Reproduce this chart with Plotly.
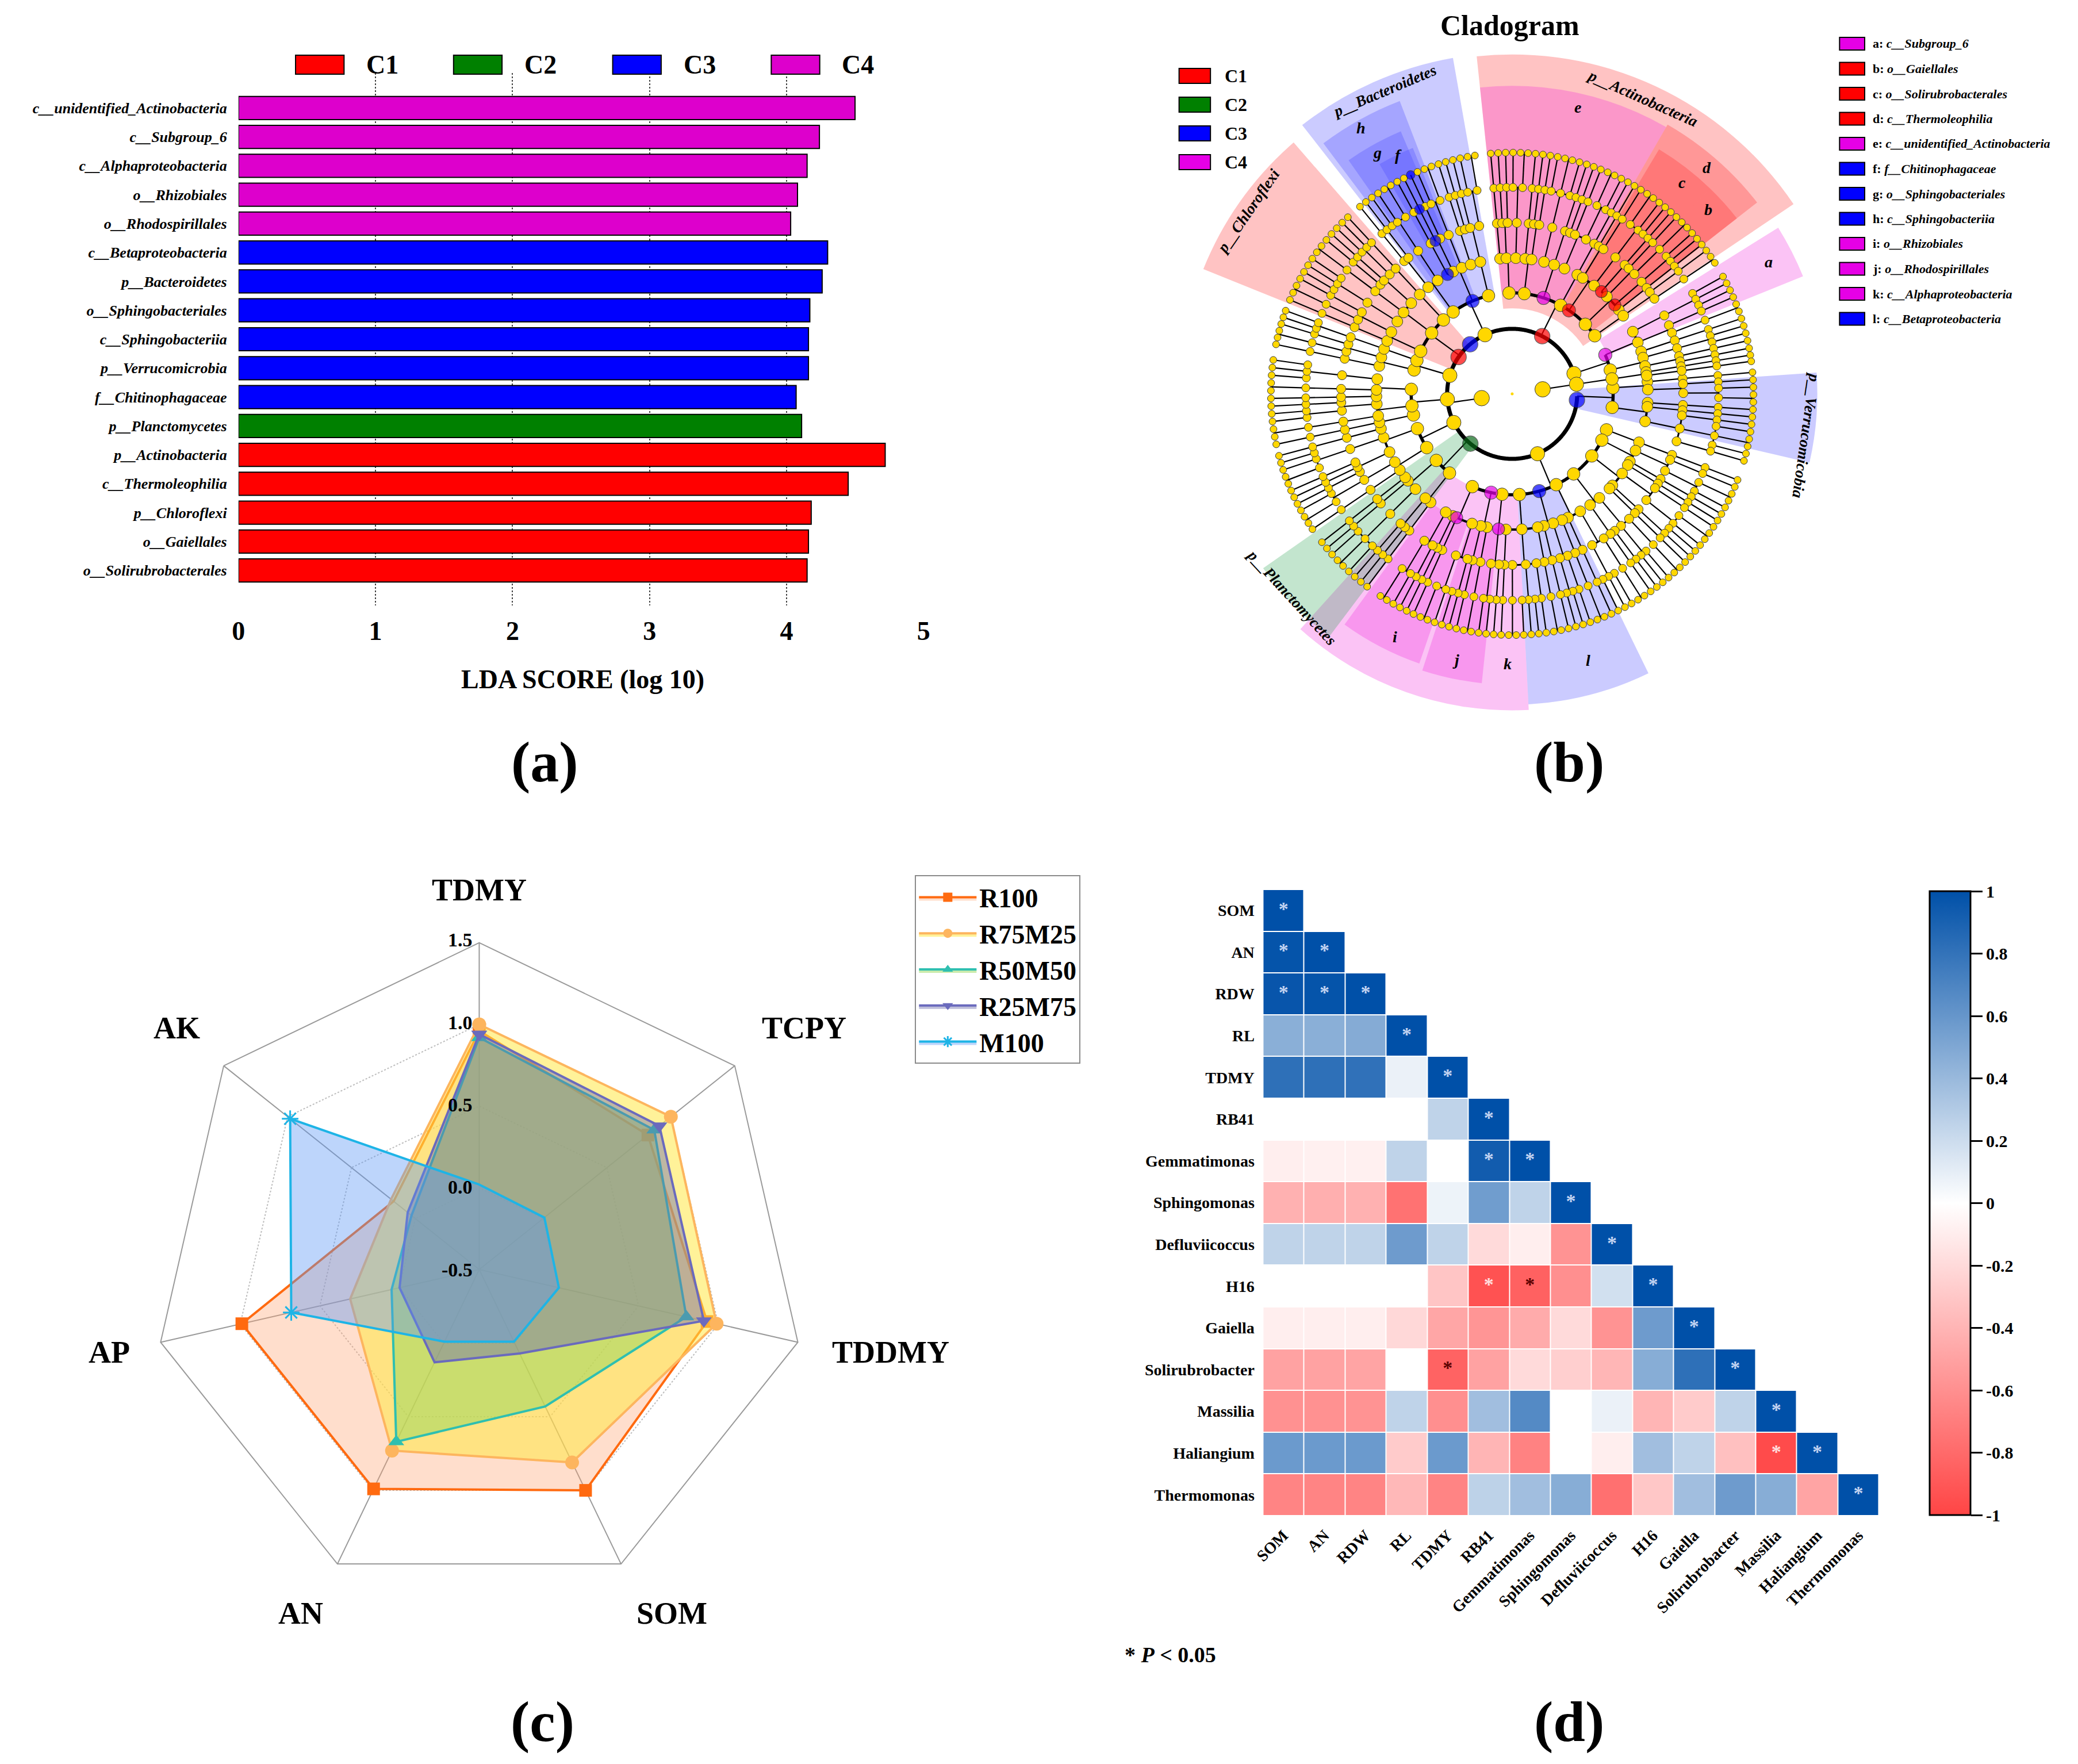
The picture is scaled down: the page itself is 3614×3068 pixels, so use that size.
import numpy as np
import plotly.graph_objects as go

W, H = 3614, 3068
SERIF = "Liberation Serif, Times New Roman, serif"
SHIFT = 8  # the page body margin moves the figure this many px right/down

# ---------------- (a) LDA scores ----------------
lda_taxa = ["c__unidentified_Actinobacteria", "c__Subgroup_6", "c__Alphaproteobacteria",
            "o__Rhizobiales", "o__Rhodospirillales", "c__Betaproteobacteria",
            "p__Bacteroidetes", "o__Sphingobacteriales", "c__Sphingobacteriia",
            "p__Verrucomicrobia", "f__Chitinophagaceae", "p__Planctomycetes",
            "p__Actinobacteria", "c__Thermoleophilia", "p__Chloroflexi",
            "o__Gaiellales", "o__Solirubrobacterales"]
lda_score = [4.50, 4.24, 4.15, 4.08, 4.03, 4.30, 4.26, 4.17, 4.16, 4.16, 4.07,
             4.11, 4.72, 4.45, 4.18, 4.16, 4.15]
lda_group = ["C4", "C4", "C4", "C4", "C4", "C3", "C3", "C3", "C3", "C3", "C3",
             "C2", "C1", "C1", "C1", "C1", "C1"]
groups = ["C1", "C2", "C3", "C4"]
group_color = {"C1": "#FF0000", "C2": "#008000", "C3": "#0000FF", "C4": "#DD00CC"}

# ---------------- (b) cladogram ----------------
# phylum leaf spans (degrees clockwise from top) and which root branch they hang on
phylum_start = [84, 110, 216, 235, 257, 281, 292, 320, 354, 420, 80]
phylum_end = [107, 214, 233, 256, 279, 291, 318, 352, 418, 440, 83]
phylum_kingdom = [0, 0, 0, 0, 0, 0, 0, 0, 0, 0, 1]
genus_sizes = [1, 1, 1, 2, 1, 1, 1, 1, 2, 1]
family_sizes = [1, 1, 2, 1, 1, 1, 3, 1]
order_sizes = [1, 2, 1, 1, 3, 1, 2, 1]
class_sizes = [2, 3, 1, 2, 4, 2, 3]

marker_ring = [2, 2, 2, 2, 2, 3, 3, 3, 3, 3, 3, 4, 4, 4, 4, 4, 5, 6, 7]
marker_theta = [304.5, 319.7, 27.5, 95.4, 220, 13.2, 38.7, 63.4, 332.9, 165.9, 194.5,
                40.3, 49.1, 203.2, 187, 332.3, 333.1, 333.6, 334.6]
marker_class = ["C1", "C3", "C1", "C3", "C2", "C4", "C1", "C4", "C3", "C3", "C4",
                "C1", "C1", "C4", "C4", "C3", "C3", "C3", "C3"]

sector_label = ["p__Actinobacteria", "e", "d", "c", "b", "a", "p__Bacteroidetes", "h", "g", "f",
                "p__Chloroflexi", "p__Verrucomicobia", "l", "k", "j", "i", "p__Planctomycetes"]
sector_start = [-6, -6, 30, 31, 44, 58, -38, -37, -35, -30, -68, 86, 154, 177, 186, 199, 217]
sector_end = [56, 30, 52, 44, 52, 68, -10, -21, -23, -22, -41, 103, 177, 222, 198, 216, 235]
sector_inner = [150, 180, 180, 240, 240, 180, 175, 177, 238, 300, 114, 114, 177, 177, 238, 238, 114]
sector_outer = [595, 540, 545, 500, 500, 550, 598, 550, 500, 465, 584, 535, 545, 555, 510, 500, 533]
sector_class = ["C1", "C4", "C1", "C1", "C1", "C4", "C3", "C3", "C3", "C3", "C1", "C3",
                "C3", "C4", "C4", "C4", "C2"]

key_letter = ["a", "b", "c", "d", "e", "f", "g", "h", "i", "j", "k", "l"]
key_taxon = ["c__Subgroup_6", "o__Gaiellales", "o__Solirubrobacterales", "c__Thermoleophilia",
             "c__unidentified_Actinobacteria", "f__Chitinophagaceae", "o__Sphingobacteriales",
             "c__Sphingobacteriia", "o__Rhizobiales", "o__Rhodospirillales",
             "c__Alphaproteobacteria", "c__Betaproteobacteria"]
key_class = ["C4", "C1", "C1", "C1", "C4", "C3", "C3", "C3", "C4", "C4", "C4", "C3"]

# ---------------- (c) radar ----------------
radar_axes = ["TDMY", "TCPY", "TDDMY", "SOM", "AN", "AP", "AK"]
r100 = [0.96, 0.82, 0.93, 1.00, 0.99, 0.99, 0.17]
r75m25 = [1.00, 1.00, 0.99, 0.81, 0.73, 0.31, 0.19]
r50m50 = [0.92, 0.87, 0.80, 0.43, 0.67, 0.05, 0.03]
r25m75 = [0.94, 0.91, 0.91, 0.07, 0.13, 0.00, 0.06]
m100 = [0.02, 0.01, 0.00, -0.01, -0.01, 0.68, 0.98]
radar_ticks = [-0.5, 0.0, 0.5, 1.0, 1.5]

# ---------------- (d) correlation ----------------
corr_names = ["SOM", "AN", "RDW", "RL", "TDMY", "RB41", "Gemmatimonas", "Sphingomonas",
              "Defluviicoccus", "H16", "Gaiella", "Solirubrobacter", "Massilia",
              "Haliangium", "Thermomonas"]
corr_rows = [
    [1.00],
    [0.98, 1.00],
    [0.97, 0.98, 1.00],
    [0.46, 0.46, 0.48, 1.00],
    [0.82, 0.82, 0.81, 0.08, 1.00],
    [0.00, 0.00, 0.00, 0.00, 0.25, 1.00],
    [-0.09, -0.08, -0.08, 0.25, 0.00, 0.93, 1.00],
    [-0.42, -0.43, -0.42, -0.76, 0.07, 0.56, 0.25, 1.00],
    [0.25, 0.25, 0.25, 0.57, 0.25, -0.20, -0.09, -0.58, 1.00],
    [0.00, 0.00, 0.00, 0.00, -0.31, -0.93, -0.85, -0.60, 0.18, 1.00],
    [-0.09, -0.09, -0.09, -0.21, -0.48, -0.57, -0.45, -0.20, -0.58, 0.57, 1.00],
    [-0.50, -0.50, -0.49, 0.00, -0.84, -0.50, -0.20, -0.26, -0.39, 0.47, 0.82, 1.00],
    [-0.59, -0.59, -0.58, 0.25, -0.60, 0.37, 0.67, 0.00, 0.08, -0.40, -0.28, 0.25, 1.00],
    [0.58, 0.58, 0.58, -0.28, 0.58, -0.40, -0.67, 0.00, -0.09, 0.37, 0.25, -0.34, -0.97, 1.00],
    [-0.66, -0.66, -0.66, -0.38, -0.66, 0.26, 0.37, 0.47, -0.77, -0.30, 0.37, 0.57, 0.47, -0.49, 1.00],
]
sig_rows = [0, 1, 1, 2, 2, 2, 3, 4, 5, 6, 6, 7, 8, 9, 9, 9, 10, 11, 11, 12, 13, 13, 14]
sig_cols = [0, 0, 1, 0, 1, 2, 3, 4, 5, 5, 6, 7, 8, 5, 6, 9, 10, 4, 11, 12, 12, 13, 14]
corr_ticks = [-1, -0.8, -0.6, -0.4, -0.2, 0, 0.2, 0.4, 0.6, 0.8, 1]


def fx(x):
    return (x - SHIFT) / W


def fy(y):
    return 1 - (y - SHIFT) / H


def ann(x, y, text, size, **kw):
    d = dict(x=fx(x), y=fy(y), xref="paper", yref="paper", text=text, showarrow=False,
             xanchor="center", yanchor="middle",
             font=dict(family=SERIF, size=size, color="black"))
    d.update(kw)
    return d


def box(x0, y0, x1, y1, color, lw=2):
    return dict(type="rect", xref="paper", yref="paper", x0=fx(x0), x1=fx(x1),
                y0=fy(y1), y1=fy(y0), fillcolor=color, line=dict(color="black", width=lw))


fig = go.Figure()
annotations, shapes = [], []

# ---- (a) bars
for g in groups:
    idx = [i for i, v in enumerate(lda_group) if v == g]
    fig.add_trace(go.Bar(
        x=[lda_score[i] for i in idx], y=[lda_taxa[i] for i in idx], orientation="h",
        marker=dict(color=group_color[g], line=dict(color="black", width=2)),
        width=0.8, showlegend=False, xaxis="x", yaxis="y"))

leg_x = [501, 778, 1057, 1335]
for g, x0 in zip(groups, leg_x):
    shapes.append(box(x0, 96, x0 + 85, 129, group_color[g]))
    annotations.append(ann(x0 + 122, 112, "<b>%s</b>" % g, 46, xanchor="left"))
annotations.append(ann(1005, 1181, "<b>LDA SCORE (log 10)</b>", 46))

# ---- (b) cladogram
CX, CY, RMAX = 2634, 685, 620
ring_r = [0, 54, 114, 177, 238, 300, 362, 423]
radial_r, radial_t = [], []
arc_pts = {lvl: ([], []) for lvl in range(2, 8)}
node_t = {lvl: [] for lvl in range(1, 8)}


def link(parent_ring, kids):
    a = (kids[0] + kids[-1]) / 2
    radial_r.extend([ring_r[parent_ring], ring_r[parent_ring + 1], None])
    radial_t.extend([a, a, None])
    if len(kids) > 1:
        ts = list(np.arange(kids[0], kids[-1], 0.5)) + [kids[-1]]
        rr, tt = arc_pts[parent_ring + 1]
        rr.extend([ring_r[parent_ring + 1]] * len(ts) + [None])
        tt.extend(ts + [None])
    return a


level_sizes = [genus_sizes, family_sizes, order_sizes, class_sizes]
counters = [0, 0, 0, 0]
kingdom_kids = {0: [], 1: []}
for p in range(len(phylum_start)):
    a0, a1 = phylum_start[p], phylum_end[p]
    n = max(1, int(round((a1 - a0) / 1.8)))
    cur = list(a0 + (np.arange(n) + 0.5) * (a1 - a0) / n)
    node_t[7].extend(cur)
    for j, ring in enumerate([6, 5, 4, 3]):
        sizes = level_sizes[j]
        nxt, i = [], 0
        while i < len(cur):
            k = sizes[counters[j] % len(sizes)]
            counters[j] += 1
            nxt.append(link(ring, cur[i:i + k]))
            i += k
        node_t[ring].extend(nxt)
        cur = nxt
    pa = link(2, cur)
    node_t[2].append(pa)
    kingdom_kids[phylum_kingdom[p]].append(pa)
for k in (0, 1):
    node_t[1].append(link(1, sorted(kingdom_kids[k])))


def angdist(a, b):
    return abs((a - b + 180) % 360 - 180)


hidden = {lvl: set() for lvl in node_t}
bm_t = []
for ring, th in zip(marker_ring, marker_theta):
    d = [angdist(th, t) for t in node_t[ring]]
    j = int(np.argmin(d))
    if ring >= 3 or d[j] < 6:
        hidden[ring].add(j)
    bm_t.append(node_t[ring][j] if ring >= 3 else th)

shade_rgb = {"C1": (255, 40, 40), "C2": (40, 160, 80), "C3": (70, 70, 255), "C4": (240, 40, 220)}
for i in range(len(sector_label)):
    c = shade_rgb[sector_class[i]]
    fig.add_trace(go.Barpolar(
        r=[sector_outer[i] - sector_inner[i]], base=[sector_inner[i]],
        theta=[(sector_start[i] + sector_end[i]) / 2], width=[sector_end[i] - sector_start[i]],
        marker=dict(color="rgba(%d,%d,%d,0.28)" % c, line=dict(width=0)),
        subplot="polar", showlegend=False, hoverinfo="skip"))

arc_w = {2: 7, 3: 5.5, 4: 4, 5: 3, 6: 2.5, 7: 2}
for lvl in range(2, 8):
    rr, tt = arc_pts[lvl]
    if rr:
        fig.add_trace(go.Scatterpolar(r=rr, theta=tt, mode="lines", subplot="polar",
                                      line=dict(color="black", width=arc_w[lvl]),
                                      showlegend=False, hoverinfo="skip"))
fig.add_trace(go.Scatterpolar(r=radial_r, theta=radial_t, mode="lines", subplot="polar",
                              line=dict(color="black", width=2.2), showlegend=False,
                              hoverinfo="skip"))
node_size = {1: 27, 2: 25, 3: 22, 4: 19, 5: 16, 6: 14, 7: 12}
for lvl in range(7, 0, -1):
    ts = [t for j, t in enumerate(node_t[lvl]) if j not in hidden[lvl]]
    fig.add_trace(go.Scatterpolar(
        r=[ring_r[lvl]] * len(ts), theta=ts, mode="markers", subplot="polar",
        marker=dict(color="#FFD700", size=node_size[lvl], line=dict(color="#3A3A3A", width=1)),
        showlegend=False, hoverinfo="skip"))
fig.add_trace(go.Scatterpolar(r=[0], theta=[0], mode="markers", subplot="polar",
                              marker=dict(color="#FFD700", size=5), showlegend=False))
bm_color = {"C1": "#FF0000", "C2": "#0B6B1B", "C3": "#0000FF", "C4": "#E600E6"}
fig.add_trace(go.Scatterpolar(
    r=[ring_r[lv] for lv in marker_ring], theta=bm_t, mode="markers", subplot="polar",
    marker=dict(color=[bm_color[c] for c in marker_class],
                size=[29 - 2 * lv if lv > 2 else 27 for lv in marker_ring],
                line=dict(color="#222", width=1.2)),
    showlegend=False, hoverinfo="skip"))

label_pos = {"p__Actinobacteria": (563, 24), "p__Bacteroidetes": (572, -23),
             "p__Chloroflexi": (561, -55.5), "p__Verrucomicobia": (521, 98),
             "p__Planctomycetes": (524, 227.5), "e": (512, 13), "d": (521, 41), "c": (473, 39),
             "b": (470, 47), "a": (505, 63), "h": (533, -29.8), "g": (482, -29.4),
             "f": (461, -25.7), "i": (470, 206), "j": (473, 192), "k": (470, 181), "l": (482, 164)}
for name in sector_label:
    r, th = label_pos[name]
    x = CX + r * np.sin(np.radians(th))
    y = CY - r * np.cos(np.radians(th))
    if name.startswith("p__"):
        ang = th if th <= 110 else th - 180
        annotations.append(ann(x, y, "<b><i>%s</i></b>" % name, 27, textangle=ang))
    else:
        annotations.append(ann(x, y, "<b><i>%s</i></b>" % name, 28))

annotations.append(ann(2630, 44, "<b>Cladogram</b>", 50))
for k, g in enumerate(groups):
    yc = 132 + 50 * k
    shapes.append(box(2050, yc - 13, 2105, yc + 13, group_color[g] if g != "C4" else "#E600E6"))
    annotations.append(ann(2128, yc, "<b>%s</b>" % g, 32, xanchor="left"))
for k in range(len(key_letter)):
    yc = 76 + 43.5 * k
    shapes.append(box(3208, yc - 11, 3252, yc + 11, bm_color[key_class[k]]))
    annotations.append(ann(3264, yc, "<b>%s: <i>%s</i></b>" % (key_letter[k], key_taxon[k]), 22,
                           xanchor="left"))

# ---- (c) radar
radar_series = [("R100", r100, "#FF6A10", "rgba(255,160,110,0.35)", "square", 22),
                ("R75M25", r75m25, "#FDB55E", "rgba(255,232,70,0.55)", "circle", 24),
                ("R50M50", r50m50, "#2FBFB0", "rgba(150,215,90,0.5)", "triangle-up", 24),
                ("R25M75", r25m75, "#6A6ABD", "rgba(110,110,175,0.45)", "triangle-down", 24),
                ("M100", m100, "#1EB4E6", "rgba(90,150,245,0.40)", "asterisk-open", 24)]
for name, vals, lc, fc, sym, ms in radar_series:
    fig.add_trace(go.Scatterpolar(
        r=vals + vals[:1], theta=radar_axes + radar_axes[:1], name=name, subplot="polar2",
        mode="lines+markers", fill="toself", fillcolor=fc,
        line=dict(color=lc, width=4),
        marker=dict(symbol=sym, size=ms, color=lc,
                    line=dict(color=lc, width=3 if sym == "asterisk-open" else 0))))

RCX, RCY, RR = 823, 2208, 573
radar_label_xy = {"TDMY": (823, 1548), "TCPY": (1393, 1788), "TDDMY": (1544, 2352),
                  "SOM": (1161, 2806), "AN": (510, 2806), "AP": (174, 2352), "AK": (293, 1788)}
for lab in radar_axes:
    x, y = radar_label_xy[lab]
    annotations.append(ann(x, y, "<b>%s</b>" % lab, 54))
for v in radar_ticks:
    annotations.append(ann(813, RCY - (v + 0.5) / 2 * RR, "<b>%.1f</b>" % v, 34, xanchor="right"))

# ---- (d) correlation heatmap
nvar = len(corr_names)
z = [[corr_rows[i][j] if j <= i else None for j in range(nvar)] for i in range(nvar)]
fig.add_trace(go.Heatmap(
    z=z, x=corr_names, y=corr_names, xaxis="x2", yaxis="y2", zmin=-1, zmax=1,
    colorscale=[[0, "#FF4545"], [0.5, "#FFFFFF"], [1, "#0050A8"]], xgap=2, ygap=2,
    hoverongaps=False,
    colorbar=dict(x=fx(3366), xanchor="left", y=fy((1550 + 2635) / 2), yanchor="middle",
                  len=(2635 - 1550) / H, lenmode="fraction", thickness=71, xpad=0, ypad=0,
                  outlinewidth=3, outlinecolor="black", ticks="outside", ticklen=20,
                  tickwidth=3, tickcolor="black", tickvals=corr_ticks,
                  ticktext=["%g" % t for t in corr_ticks],
                  tickfont=dict(family=SERIF, size=30, color="black", weight="bold"))))
star_val = [corr_rows[r][c] for r, c in zip(sig_rows, sig_cols)]
fig.add_trace(go.Scatter(
    x=[corr_names[c] for c in sig_cols], y=[corr_names[r] for r in sig_rows], mode="text",
    text=["*"] * len(sig_rows), xaxis="x2", yaxis="y2", showlegend=False, hoverinfo="skip",
    textfont=dict(family=SERIF, size=34, weight="bold",
                  color=["#C4D4F2" if v > 0 else ("#FFE0E0" if v <= -0.9 else "#5A0000")
                         for v in star_val])))
annotations.append(ann(1953, 2878, "<b>* <i>P</i> &lt; 0.05</b>", 38, xanchor="left"))

# ---- panel letters
for txt, x, y in [("(a)", 938, 1325), ("(b)", 2734, 1325), ("(c)", 934, 2994), ("(d)", 2734, 2994)]:
    annotations.append(ann(x, y, "<b>%s</b>" % txt, 100))

fig.update_layout(
    width=W, height=H, margin=dict(l=0, r=0, t=0, b=0),
    paper_bgcolor="white", plot_bgcolor="white", barmode="overlay",
    xaxis=dict(domain=[fx(401), fx(1602)], range=[0, 5], anchor="y", tickvals=[0, 1, 2, 3, 4, 5],
               showgrid=True, gridcolor="#444444", gridwidth=2, griddash="dot", zeroline=False,
               showline=False, ticks="outside", ticklen=4, tickcolor="rgba(0,0,0,0)",
               tickfont=dict(family=SERIF, size=46, color="black", weight="bold")),
    yaxis=dict(domain=[fy(1053), fy(127)], anchor="x", type="category",
               categoryorder="array", categoryarray=lda_taxa, range=[17.21, -1.21],
               showgrid=False, zeroline=False, ticks="outside", ticklen=14,
               tickcolor="rgba(0,0,0,0)",
               tickfont=dict(family=SERIF, size=26, color="black", weight="bold", style="italic")),
    xaxis2=dict(domain=[fx(2197), fx(3277)], anchor="y2", range=[-0.5, nvar - 0.5],
                showgrid=False, zeroline=False, tickangle=-45, ticks="outside", ticklen=6,
                tickcolor="rgba(0,0,0,0)",
                tickfont=dict(family=SERIF, size=28, color="black", weight="bold")),
    yaxis2=dict(domain=[fy(2636), fy(1547)], anchor="x2", range=[nvar - 0.5, -0.5],
                showgrid=False, zeroline=False, ticks="outside", ticklen=8,
                tickcolor="rgba(0,0,0,0)",
                tickfont=dict(family=SERIF, size=28, color="black", weight="bold")),
    polar=dict(domain=dict(x=[fx(CX - RMAX), fx(CX + RMAX)], y=[fy(CY + RMAX), fy(CY - RMAX)]),
               bgcolor="rgba(0,0,0,0)",
               radialaxis=dict(range=[0, RMAX], visible=False),
               angularaxis=dict(rotation=90, direction="clockwise", visible=False)),
    polar2=dict(domain=dict(x=[fx(RCX - RR), fx(RCX + RR)], y=[fy(RCY + RR), fy(RCY - RR)]),
                bgcolor="rgba(0,0,0,0)", gridshape="linear",
                radialaxis=dict(range=[-0.5, 1.5], tickvals=radar_ticks, showticklabels=False,
                                showline=False, ticks="", gridcolor="#BDBDBD", gridwidth=2,
                                griddash="dot"),
                angularaxis=dict(rotation=90, direction="clockwise", showticklabels=False,
                                 ticks="", gridcolor="#9A9A9A", gridwidth=2, showline=True,
                                 linecolor="#9A9A9A", linewidth=2)),
    legend=dict(x=fx(1587), y=fy(1522), xanchor="left", yanchor="top", bgcolor="white",
                bordercolor="#8A8A8A", borderwidth=2, itemwidth=100, tracegroupgap=0,
                font=dict(family=SERIF, size=46, color="black", weight="bold")),
    annotations=annotations, shapes=shapes)

fig.write_html("out.html")
